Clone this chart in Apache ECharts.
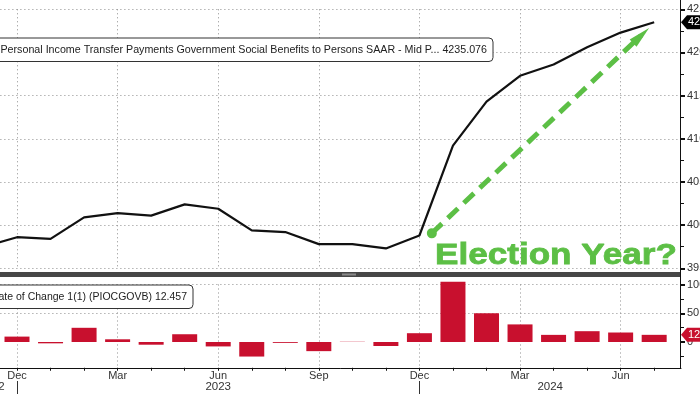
<!DOCTYPE html>
<html><head><meta charset="utf-8">
<script src="https://cdn.jsdelivr.net/npm/echarts@6/dist/echarts.min.js"></script>
<style>html,body{margin:0;padding:0;background:#fff}#c{width:700px;height:394px}</style>
</head><body><div id="c"></div>
<script>
// ---- data ----
const months = ['Nov 2022','Dec 2022','Jan 2023','Feb 2023','Mar 2023','Apr 2023','May 2023','Jun 2023','Jul 2023','Aug 2023','Sep 2023','Oct 2023','Nov 2023','Dec 2023','Jan 2024','Feb 2024','Mar 2024','Apr 2024','May 2024','Jun 2024','Jul 2024'];
const benefits = [3975, 3986, 3984, 4009, 4014, 4011, 4024, 4019, 3994, 3992, 3978, 3978, 3973, 3988, 4092, 4143, 4173, 4186, 4206, 4223, 4235.076];
const changeMonths = months.slice(1);
const changes = [9.4, -2.3, 24.7, 4.7, -4.7, 13.5, -7.7, -25.3, -1.5, -15.9, 0.4, -7.0, 15.3, 104.8, 50.0, 30.6, 12.4, 18.8, 16.5, 12.457];
const monthTickLabels = ['Dec','Mar','Jun','Sep'];
const benefitTicks = [3950, 4000, 4050, 4100, 4150, 4200, 4250];
const changeTicks = [-50, 0, 50, 100];
const yearLabels = ['2022','2023','2024'];
const benefitsName = 'Personal Income Transfer Payments Government Social Benefits to Persons SAAR - Mid P...';
const changeName = 'Rate of Change 1(1) (PIOCGOVB)';
const annotation = 'Election Year?';

// ---- layout helpers ----
const anchor = months.indexOf('Dec 2022');
const xOf = m => months.indexOf(m) - anchor;
const xMin = -3, xMax = 19.8;
const yearEdges = [-1.5, xOf('Dec 2022'), xOf('Dec 2023'), xMax];
const yearPos = yearLabels.map((y, i) => (yearEdges[i] + yearEdges[i + 1]) / 2);
const FONT = '"Liberation Sans", Arial, sans-serif';
const GREEN = '#5CBF45';
const RED = '#C8102E';
const gridDots = { show: true, lineStyle: { color: '#8c8c8c', width: 1, type: [1, 3] } };
const tagPath = 'path://M0,7L6,0L46,0L46,14L6,14Z';
const lastB = benefits[benefits.length - 1];
const lastC = changes[changes.length - 1];

const monthLabel = v => {
  const m = months[v + anchor];
  if (!m || v !== Math.round(v)) return '';
  const s = m.slice(0, 3);
  return monthTickLabels.includes(s) ? s : '';
};

const chart = echarts.init(document.getElementById('c'), null, { renderer: 'canvas' });
chart.setOption({
  animation: false,
  backgroundColor: '#fff',
  textStyle: { fontFamily: FONT },
  grid: [
    { left: -83.6, width: 764.6, top: 9.3, height: 259, outerBoundsMode: 'none', containLabel: false },
    { left: -83.6, width: 764.6, top: 284.5, height: 86.25, outerBoundsMode: 'none', containLabel: false }
  ],
  legend: [
    { data: [benefitsName], right: 207, top: 38, icon: 'none', itemWidth: 0, itemHeight: 12,
      padding: [6, 6, 6, 6], backgroundColor: '#fff', borderColor: '#333', borderWidth: 1, borderRadius: 4,
      selectedMode: false, textStyle: { fontSize: 10.7, color: '#222', fontFamily: FONT },
      formatter: n => n + ' ' + lastB.toFixed(3) },
    { data: [changeName], right: 507, top: 285, icon: 'none', itemWidth: 0, itemHeight: 12,
      padding: [6, 6, 6, 6], backgroundColor: '#fff', borderColor: '#333', borderWidth: 1, borderRadius: 4,
      selectedMode: false, textStyle: { fontSize: 10.5, color: '#222', fontFamily: FONT },
      formatter: n => n + ' ' + lastC.toFixed(3) }
  ],
  xAxis: [
    { gridIndex: 0, type: 'value', min: xMin, max: xMax, interval: 3,
      axisLine: { show: false, onZero: false }, axisTick: { show: false }, axisLabel: { show: false },
      splitLine: Object.assign({ showMinLine: false, showMaxLine: false }, gridDots) },
    { gridIndex: 1, type: 'value', min: xMin, max: xMax, interval: 1, position: 'bottom', offset: -3,
      axisLine: { show: true, onZero: false, lineStyle: { color: '#111', width: 1 } },
      axisTick: { show: true, length: 3, lineStyle: { color: '#111' } },
      axisLabel: { show: true, margin: 3, fontSize: 11, color: '#333', fontFamily: FONT, formatter: monthLabel,
        showMinLabel: false, showMaxLabel: false },
      splitLine: { show: false } },
    { gridIndex: 1, type: 'value', min: xMin, max: xMax, interval: 3, position: 'top',
      axisLine: { show: false, onZero: false }, axisTick: { show: false }, axisLabel: { show: false },
      splitLine: Object.assign({ showMinLine: false, showMaxLine: false }, gridDots) },
    { gridIndex: 1, type: 'value', min: xMin, max: xMax, position: 'bottom', offset: 10.25,
      axisLine: { show: false, onZero: false },
      axisTick: { show: true, length: 14, customValues: [xOf('Dec 2022'), xOf('Dec 2023')], lineStyle: { color: '#333' } },
      axisLabel: { show: true, margin: 0, fontSize: 11.5, color: '#333', fontFamily: FONT, customValues: yearPos,
        formatter: v => yearLabels[yearPos.findIndex(p => Math.abs(p - v) < 1e-6)] || '' },
      splitLine: { show: false } }
  ],
  yAxis: [
    { gridIndex: 0, type: 'value', position: 'right', min: benefitTicks[0], max: benefitTicks[benefitTicks.length - 1], interval: 50,
      axisLine: { show: false, onZero: false },
      axisTick: { show: true, length: 4, lineStyle: { color: '#111', width: 2 } },
      minorTick: { show: true, splitNumber: 2, length: 3, lineStyle: { color: '#111' } },
      axisLabel: { margin: 6, fontSize: 11, color: '#333', fontFamily: FONT, formatter: v => String(v) },
      splitLine: gridDots },
    { gridIndex: 1, type: 'value', position: 'right', min: changeTicks[0], max: changeTicks[changeTicks.length - 1], interval: 50,
      axisLine: { show: false, onZero: false },
      axisTick: { show: true, length: 4, customValues: changeTicks.slice(1), lineStyle: { color: '#111', width: 2 } },
      minorTick: { show: true, splitNumber: 2, length: 3, lineStyle: { color: '#111' } },
      axisLabel: { margin: 6, fontSize: 11, color: '#333', fontFamily: FONT, showMinLabel: false, formatter: v => String(v) },
      splitLine: Object.assign({ showMinLine: false }, gridDots) }
  ],
  series: [
    { name: benefitsName, type: 'line', xAxisIndex: 0, yAxisIndex: 0, clip: false,
      data: months.map((m, i) => [xOf(m), benefits[i]]),
      symbol: 'none', lineStyle: { color: '#111', width: 2.2 }, itemStyle: { color: '#111' },
      markPoint: { symbol: tagPath, symbolSize: [46, 14], symbolOffset: [23, 0], symbolKeepAspect: false,
        itemStyle: { color: '#000' }, silent: true,
        label: { show: true, position: 'insideLeft', distance: 7, color: '#fff', fontSize: 11, fontFamily: FONT, formatter: () => lastB.toFixed(2) },
        data: [{ coord: [xMax, lastB] }] },
      markLine: { silent: true, symbol: ['circle', 'triangle'], symbolSize: [10, 22],
        label: { show: false },
        lineStyle: { color: GREEN, width: 5, type: [14, 8], cap: 'butt' },
        itemStyle: { color: GREEN },
        data: [[{ coord: [12.37, 3990.6] }, { coord: [18.61, 4219.7] }]] } },
    { name: changeName, type: 'bar', xAxisIndex: 1, yAxisIndex: 1, clip: false,
      data: changeMonths.map((m, i) => [xOf(m), changes[i]]),
      barWidth: 25, itemStyle: { color: RED },
      markPoint: { symbol: tagPath, symbolSize: [46, 14], symbolOffset: [23, 0], symbolKeepAspect: false,
        itemStyle: { color: RED }, silent: true,
        label: { show: true, position: 'insideLeft', distance: 7, color: '#fff', fontSize: 11, fontFamily: FONT, formatter: () => lastC.toFixed(3) },
        data: [{ coord: [xMax, lastC] }] } }
  ],
  graphic: [
    { type: 'rect', shape: { x: 0, y: 272, width: 681, height: 5 }, style: { fill: '#474747' }, z: 10 },
    { type: 'rect', shape: { x: 342, y: 273.5, width: 14, height: 2 }, style: { fill: '#8a8a8a' }, z: 11 },
    { type: 'line', shape: { x1: 680.5, y1: 0, x2: 680.5, y2: 368 }, style: { stroke: '#111', lineWidth: 1 }, z: 10 },
    { type: 'text', x: 435, y: 241, scaleX: 1.17, z: 12,
      style: { text: annotation, x: 0, y: 0, fill: GREEN, stroke: GREEN, lineWidth: 0.8, font: 'bold 30px ' + FONT, verticalAlign: 'top' } }
  ]
});
</script></body></html>
